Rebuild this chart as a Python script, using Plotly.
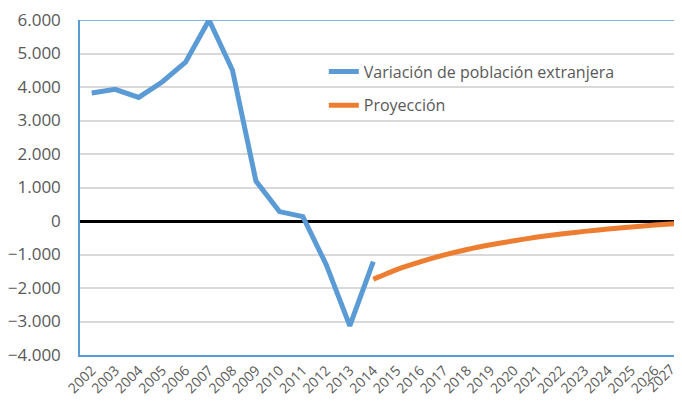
import plotly.graph_objects as go

# data
years = list(range(2002, 2028))

hist_years = list(range(2002, 2015))
hist_values = [3820, 3930, 3690, 4150, 4740, 6000, 4500, 1190, 280, 130,
               -1310, -3130, -1210]

proj_years = list(range(2014, 2028))
proj_values = [-1740, -1450, -1220, -1020, -850, -710, -590, -480, -390,
               -310, -240, -180, -120, -70]

y_ticks = [-4000, -3000, -2000, -1000, 0, 1000, 2000, 3000, 4000, 5000, 6000]

font_family = "Open Sans, Noto Sans, sans-serif"
grey = "#595959"
x_min, x_max = 2001.5, 2027.16

trace_hist = go.Scatter(
    x=hist_years,
    y=hist_values,
    mode='lines',
    name='Variación de población extranjera',
    legendgroup='a',
    line=dict(color='#5B9BD5', width=5),
)
trace_proj = go.Scatter(
    x=proj_years,
    y=proj_values,
    mode='lines',
    name='Proyección',
    legendgroup='b',
    line=dict(color='#ED7D31', width=5, shape='spline', smoothing=0.6),
)

# the last category label sits right at the edge of the chart
last_label = dict(
    x=1, xref='paper',
    y=0, yref='paper',
    text=str(years[-1]), showarrow=False,
    textangle=-45, xanchor='right', yanchor='top',
    xshift=0, yshift=-2,
    font=dict(size=14, color=grey),
)

# page body has an 8px margin, so the figure is 8px smaller than the window
layout = go.Layout(
    width=674,
    height=400,
    margin=dict(l=72, r=0, t=12, b=53),
    paper_bgcolor='white',
    plot_bgcolor='white',
    separators=',.',
    font=dict(family=font_family, color=grey),
    showlegend=True,
    legend=dict(
        x=0.405, y=0.897, xanchor='left', yanchor='top',
        font=dict(size=16, color=grey),
        bgcolor='rgba(0,0,0,0)',
        tracegroupgap=10,
    ),
    xaxis=dict(
        range=[x_min, x_max],
        tickvals=years[:-1],
        tickangle=-45,
        tickfont=dict(size=14, color=grey),
        showgrid=False,
        zeroline=False,
        showline=True,
        linecolor='#5B9BD5',
        linewidth=1.5,
        ticks='',
        automargin=False,
        ticklabeloverflow='allow',
    ),
    yaxis=dict(
        range=[-4000, 6000],
        tickvals=y_ticks,
        tickformat=',d',
        tickfont=dict(size=17, color=grey),
        showgrid=True,
        gridcolor='#D9D9D9',
        gridwidth=1.5,
        zeroline=True,
        zerolinecolor='black',
        zerolinewidth=2.5,
        showline=True,
        linecolor='#5B9BD5',
        linewidth=1.5,
        ticks='',
        ticklabelstandoff=14,
        automargin=False,
        ticklabeloverflow='allow',
    ),
    shapes=[dict(
        type='line', xref='paper', yref='y',
        x0=0, x1=1, y0=6000, y1=6000,
        line=dict(color='#5B9BD5', width=1.5),
    )],
    annotations=[last_label],
)

fig = go.Figure(data=[trace_hist, trace_proj], layout=layout)
fig.write_html("out.html")
